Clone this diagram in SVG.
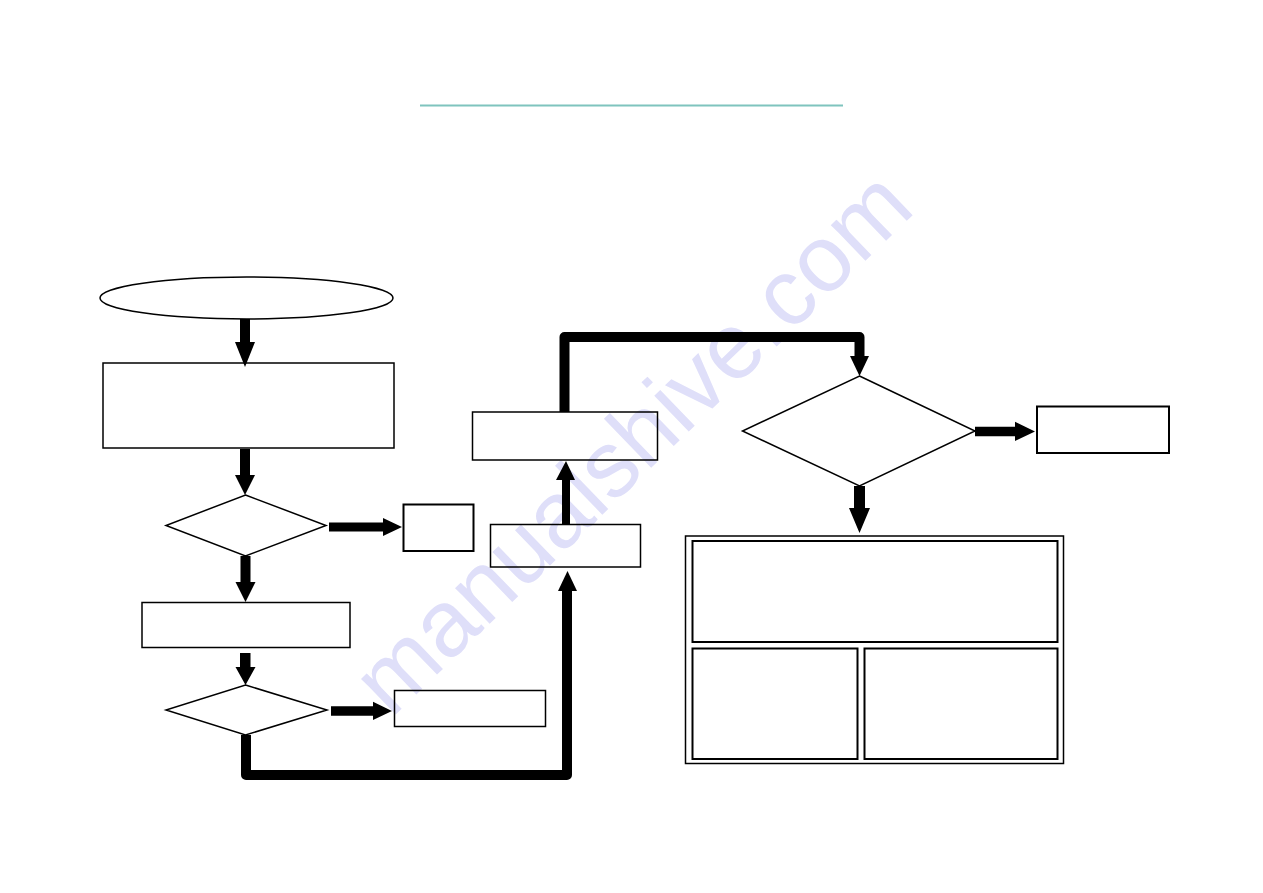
<svg xmlns="http://www.w3.org/2000/svg" width="1263" height="893" viewBox="0 0 1263 893">
<style>
.box{fill:none;stroke:#000;stroke-width:1.5}
.box2{fill:none;stroke:#000;stroke-width:2}
.wm{font-family:"Liberation Sans",Arial,sans-serif;font-size:94px;fill:#dfdff9}
.ah{fill:#000;stroke:none}
.thick{fill:none;stroke:#000;stroke-width:10;stroke-linejoin:round;stroke-linecap:butt}
</style>
<rect width="1263" height="893" fill="#fff"/>
<text class="wm" x="391" y="719" transform="rotate(-44 391 719)">manualshive.com</text>
<line id="title-line" x1="420" y1="105.5" x2="843" y2="105.5" stroke="#7fc4be" stroke-width="2.2"/>
<g id="start"><ellipse class="box" cx="246.5" cy="298" rx="146.5" ry="21" stroke-width="1.2"/></g>
<g id="step1"><rect class="box" x="103" y="363" width="291" height="85"/></g>
<g id="decision1"><polygon class="box" points="245.5,495 326,525.5 245.5,556 166,525.5"/></g>
<g id="out1"><rect class="box2" x="403.5" y="504.5" width="70" height="46.5"/></g>
<g id="step2"><rect class="box" x="142" y="602.5" width="208" height="45"/></g>
<g id="decision2"><polygon class="box" points="245.5,685 327,710 245.5,735 166,710"/></g>
<g id="out2"><rect class="box" x="394.5" y="690.5" width="151" height="36"/></g>
<g id="step3"><rect class="box" x="490.5" y="524.5" width="150" height="42.5"/></g>
<g id="step4"><rect class="box" x="472.5" y="412" width="185" height="48"/></g>
<g id="decision3"><polygon class="box" points="859.5,376 975,431 859.5,486 742.5,431"/></g>
<g id="out3"><rect class="box2" x="1037" y="406.5" width="132" height="46.5"/></g>
<g id="result">
<rect class="box" x="685.5" y="536" width="378" height="227.5"/>
<rect class="box2" x="692.5" y="541" width="365" height="101"/>
<rect class="box2" x="692.5" y="648.5" width="165" height="110.5"/>
<rect class="box2" x="864.5" y="648.5" width="193" height="110.5"/>
</g>
<g id="connectors">
<polygon class="ah" points="240,319 250,319 250,342 255,342 245,367 235,342 240,342"/>
<polygon class="ah" points="240,449 250,449 250,475 255,475 245,495 235,475 240,475"/>
<polygon class="ah" points="240.5,556 250.5,556 250.5,582 255.5,582 245.5,602 235.5,582 240.5,582"/>
<polygon class="ah" points="240,653 250.5,653 250.5,667 255.5,667 245.5,685 235.5,667 240,667"/>
<polygon class="ah" points="329,522.5 383,522.5 383,518 402,527 383,536 383,531.5 329,531.5"/>
<polygon class="ah" points="331,706.2 373,706.2 373,701.7 392,711 373,720 373,715.7 331,715.7"/>
<polygon class="ah" points="975,426.8 1015,426.8 1015,421.8 1035,431.5 1015,441 1015,436.2 975,436.2"/>
<polygon class="ah" points="854,486 865,486 865,508 870,508 859.5,533 849,508 854,508"/>
<polygon class="ah" points="562,524 570,524 570,480 575,480 566,461 556,480 562,480"/>
<polyline class="thick" points="246,735 246,775 567,775 567,591"/>
<polygon class="ah" points="558,591 577,591 567.5,571"/>
<polyline class="thick" points="564.5,412 564.5,337 859.5,337 859.5,357"/>
<polygon class="ah" points="850,356 869,356 859.5,376"/>
</g>
</svg>
